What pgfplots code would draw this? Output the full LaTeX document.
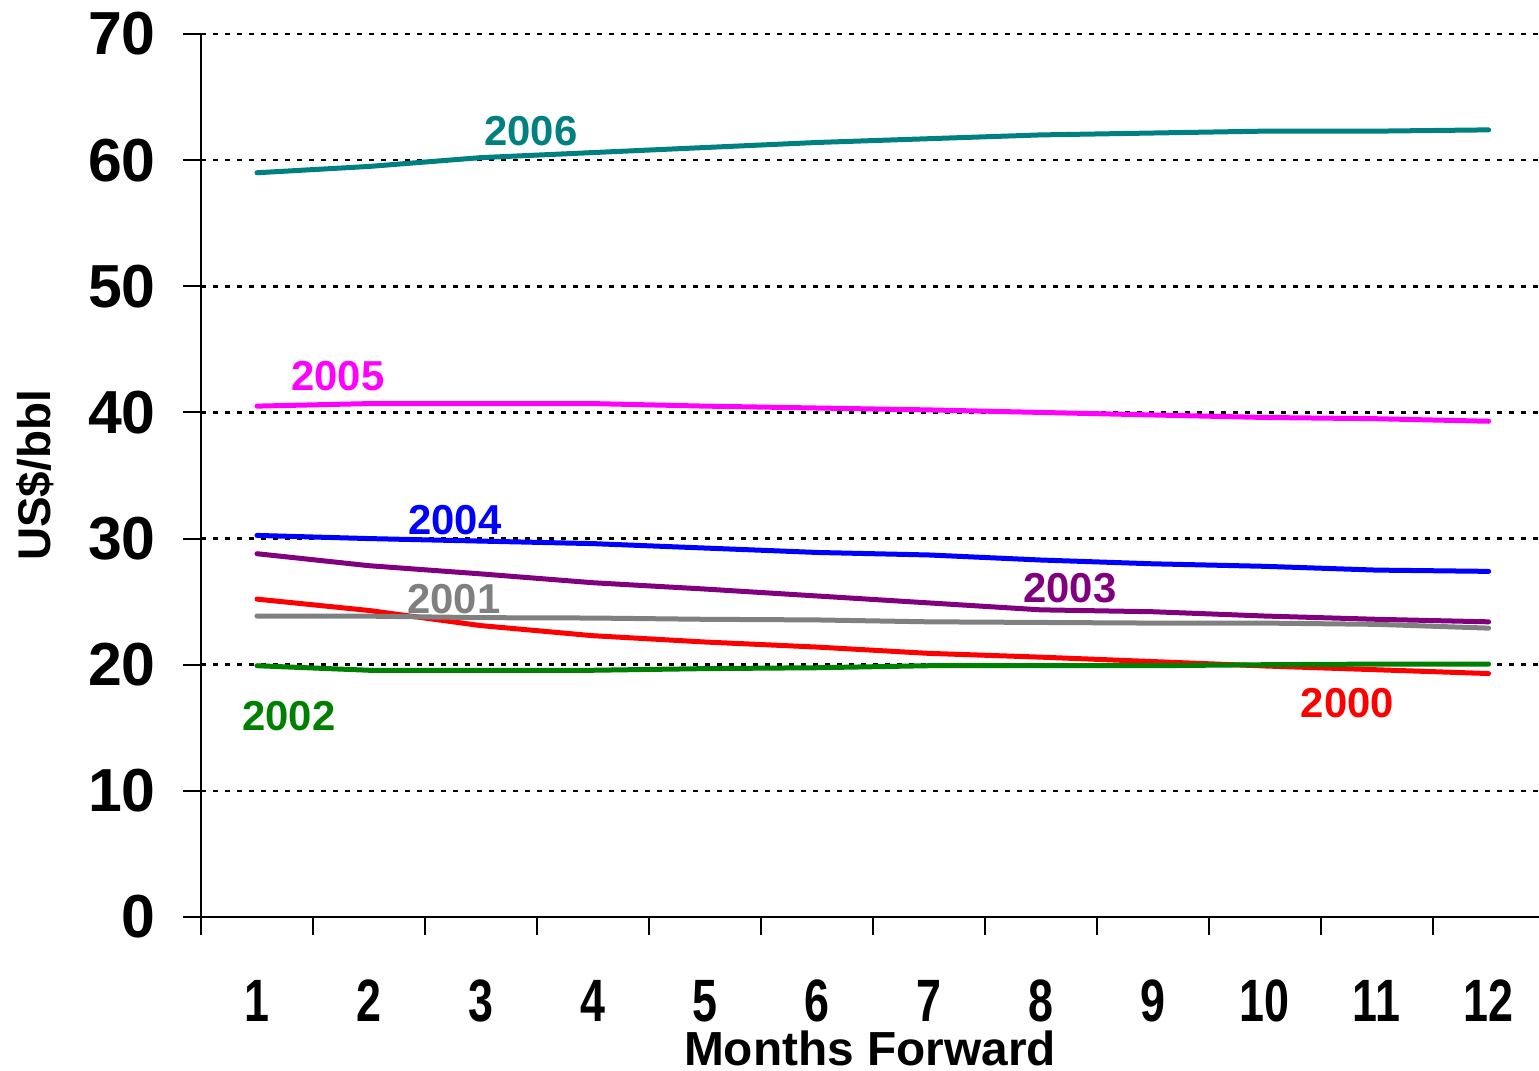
\documentclass[border=0pt]{standalone}
\usepackage{fontspec}
\setmainfont{Liberation Sans}
\usepackage{pgfplots}
\pgfplotsset{compat=1.18}

\definecolor{cTeal}{HTML}{008080}
\definecolor{cMagenta}{HTML}{FF00FF}
\definecolor{cBlue}{HTML}{0000FF}
\definecolor{cPurple}{HTML}{800080}
\definecolor{cGray}{HTML}{808080}
\definecolor{cRed}{HTML}{FF0000}
\definecolor{cGreen}{HTML}{008000}

% narrow bold digits for the month numbers
\newcommand\nx[1]{\scalebox{0.75}[1]{#1}}

\begin{document}
\begin{tikzpicture}
\useasboundingbox (-201bp,-154bp) rectangle (1338bp,917bp);
\begin{axis}[
  at={(0,0)}, anchor=south west,
  scale only axis, width=1338bp, height=883bp,
  xmin=0.5, xmax=12.45, ymin=0, ymax=70,
  axis x line*=bottom, axis y line*=left,
  axis line style={line width=2bp, black},
  tick align=outside,
  xtick={1,2,3,4,5,6,7,8,9,10,11,12},
  xticklabels={\nx{1},\nx{2},\nx{3},\nx{4},\nx{5},\nx{6},\nx{7},\nx{8},\nx{9},\nx{10},\nx{11},\nx{12}},
  major x tick style={draw=none},
  minor xtick={0.5,1.5,2.5,3.5,4.5,5.5,6.5,7.5,8.5,9.5,10.5,11.5},
  minor tick length=18bp,
  major tick length=18bp,
  tick style={line width=2bp, black},
  ytick={0,10,20,30,40,50,60,70},
  yticklabels={0,10,20,30,40,50,60,70},
  ymajorgrids,
  grid style={black, line width=2.5bp, dash pattern=on 5bp off 7bp},
  xticklabel style={font=\fontsize{60}{60}\selectfont\bfseries, inner sep=0pt, anchor=center, yshift=-66bp},
  yticklabel style={font=\fontsize{61}{61}\selectfont\bfseries, inner sep=0pt, anchor=east, xshift=-27bp},
  xlabel={Months Forward},
  xlabel style={font=\fontsize{48}{48}\selectfont\bfseries, inner sep=0pt, at={(rel axis cs:0.5,0)}, anchor=center, yshift=-131bp},
  ylabel={US\$/bbl},
  ylabel style={font=\fontsize{46}{46}\selectfont\bfseries, inner sep=0pt, at={(rel axis cs:0,0.5)}, anchor=center, yshift=166bp},
  every axis plot/.append style={line width=5bp, line cap=round, line join=round},
  clip=false,
]
% 2000
\addplot[cRed] coordinates {(1,25.2) (2,24.3) (3,23.1) (4,22.3) (5,21.8) (6,21.4) (7,20.9) (8,20.6) (9,20.25) (10,19.9) (11,19.6) (12,19.3)};
% 2001
\addplot[cGray] coordinates {(1,23.86) (2,23.85) (3,23.73) (4,23.7) (5,23.6) (6,23.55) (7,23.4) (8,23.35) (9,23.3) (10,23.3) (11,23.2) (12,22.9)};
% 2002
\addplot[cGreen] coordinates {(1,19.92) (2,19.56) (3,19.56) (4,19.56) (5,19.69) (6,19.76) (7,19.92) (8,19.92) (9,19.92) (10,20.0) (11,20.05) (12,20.05)};
% 2003
\addplot[cPurple] coordinates {(1,28.8) (2,27.85) (3,27.2) (4,26.5) (5,26.0) (6,25.45) (7,24.9) (8,24.35) (9,24.2) (10,23.86) (11,23.6) (12,23.4)};
% 2004
\addplot[cBlue] coordinates {(1,30.25) (2,30.0) (3,29.8) (4,29.6) (5,29.25) (6,28.9) (7,28.7) (8,28.3) (9,28.0) (10,27.8) (11,27.5) (12,27.4)};
% 2005
\addplot[cMagenta] coordinates {(1,40.5) (2,40.7) (3,40.7) (4,40.7) (5,40.5) (6,40.35) (7,40.2) (8,40.0) (9,39.8) (10,39.6) (11,39.5) (12,39.3)};
% 2006
\addplot[cTeal] coordinates {(1,59.0) (2,59.5) (3,60.2) (4,60.6) (5,61.0) (6,61.4) (7,61.7) (8,62.0) (9,62.15) (10,62.3) (11,62.3) (12,62.4)};

% series names beside the curves
\begin{scope}[every node/.style={font=\fontsize{42}{42}\selectfont\bfseries, inner sep=0pt, anchor=center}]
\node[text=cTeal]    at (axis cs:3.446,62.31) {2006};
\node[text=cMagenta] at (axis cs:1.723,42.89) {2005};
\node[text=cBlue]    at (axis cs:2.768,31.47) {2004};
\node[text=cGray]    at (axis cs:2.759,25.21) {2001};
\node[text=cPurple]  at (axis cs:8.259,26.08) {2003};
\node[text=cGreen]   at (axis cs:1.286,15.93) {2002};
\node[text=cRed]     at (axis cs:10.74,16.97) {2000};
\end{scope}
\end{axis}
\end{tikzpicture}
\end{document}
